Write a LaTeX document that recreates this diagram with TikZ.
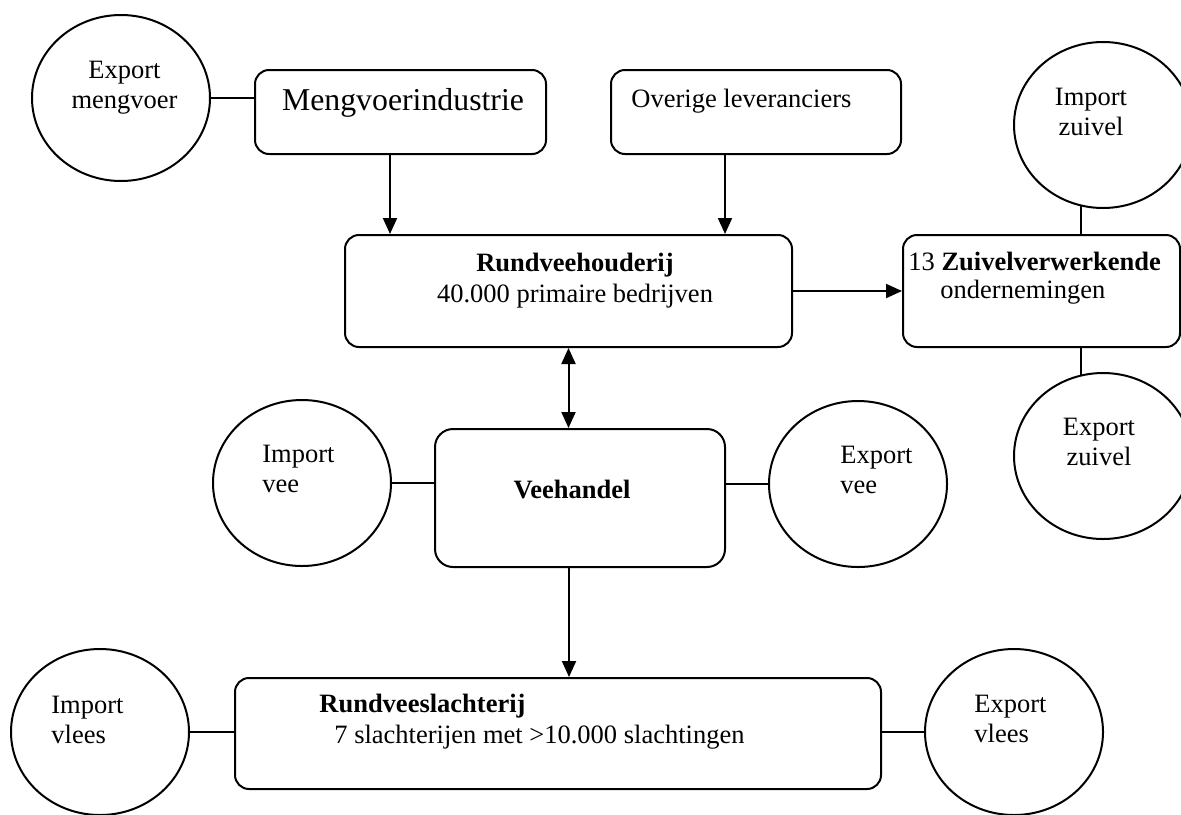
\documentclass[tikz,border=0pt]{standalone}
\usepackage{fontspec}
\setmainfont{Liberation Serif}
\usetikzlibrary{arrows.meta}
\usetikzlibrary{shapes.geometric}
\tikzstyle{box} = [draw, line width=1pt, rounded corners=7pt, inner sep=0pt]
\tikzstyle{bubble} = [draw, line width=1pt, ellipse, inner sep=0pt, minimum width=89pt, minimum height=83pt]
\tikzstyle{txt} = [inner sep=0pt, font=\fontsize{13.25}{15.25}\selectfont]
\tikzstyle{link} = [draw, line width=1pt]
\tikzstyle{flow} = [link, -{Triangle[length=8pt,width=7pt]}]
\tikzstyle{twoway} = [link, {Triangle[length=8pt,width=7pt]}-{Triangle[length=8pt,width=7pt]}]

\begin{document}
\begin{tikzpicture}[x=0.5pt, y=-0.5pt]
    \useasboundingbox (0,0) rectangle (1181,814);
    % boxes
    \node[box, minimum width=145.5pt, minimum height=42pt] (mengvoer) at (400.5,112) {};
    \node[box, minimum width=145pt, minimum height=42pt] (overige) at (756,112) {};
    \node[box, minimum width=223.5pt, minimum height=56pt] (rund) at (568.5,291) {};
    \node[box, minimum width=138.5pt, minimum height=56pt] (zuivel) at (1041.5,291) {};
    \node[box, rounded corners=9pt, minimum width=145pt, minimum height=69pt] (veehandel) at (580,498) {};
    \node[box, minimum width=323pt, minimum height=55.5pt] (slacht) at (558,733.5) {};
    % import / export
    \node[bubble] (expmeng) at (121,98) {};
    \node[bubble] (impzuivel) at (1103,125) {};
    \node[bubble] (expzuivel) at (1103,456) {};
    \node[bubble] (impvee) at (302,483) {};
    \node[bubble] (expvee) at (858,484) {};
    \node[bubble] (impvlees) at (100,732) {};
    \node[bubble] (expvlees) at (1014,732) {};
    % texts
    \node[txt, font=\fontsize{15.9}{19}\selectfont, anchor=base] (mengvoertxt) at (403,110) {Mengvoerindustrie};
    \node[txt, anchor=base west] (overigetxt) at (631,107) {Overige leveranciers};
    \node[txt, anchor=north, align=center] (rundtxt) at (575,253) {\textbf{Rundveehouderij}\\40.000 primaire bedrijven};
    \node[txt, anchor=north west, align=left] (zuiveltxt) at (908,252) {13 \textbf{Zuivelverwerkende}\\[-1.25pt]\hspace*{16pt}ondernemingen};
    \node[txt, anchor=base] (veehandeltxt) at (572,498) {\textbf{Veehandel}};
    \node[txt, anchor=north west, align=left] (slachttxt) at (319,694) {\textbf{Rundveeslachterij}\\\hspace*{7.5pt}7 slachterijen met >10.000 slachtingen};
    \node[txt, anchor=north, align=center] (expmengtxt) at (124.5,60.5) {Export\\mengvoer};
    \node[txt, anchor=north, align=center] (impzuiveltxt) at (1091,87.5) {Import\\zuivel};
    \node[txt, anchor=north, align=center] (expzuiveltxt) at (1099,417.5) {Export\\zuivel};
    \node[txt, anchor=north west, align=left] (impveetxt) at (262,444.5) {Import\\vee};
    \node[txt, anchor=north west, align=left] (expveetxt) at (840,445.5) {Export\\vee};
    \node[txt, anchor=north west, align=left] (impvleestxt) at (51,695.5) {Import\\vlees};
    \node[txt, anchor=north west, align=left] (expvleestxt) at (974,694.5) {Export\\vlees};
    % connectors
    \draw[link] (expmeng.east) -- (expmeng.east -| mengvoer.west);
    \draw[flow] ([xshift=-5.25pt]mengvoer.south) -- ([xshift=-5.25pt]mengvoer.south |- rund.north);
    \draw[flow] ([xshift=-15.5pt]overige.south) -- ([xshift=-15.5pt]overige.south |- rund.north);
    \draw[flow] (rund.east) -- (zuivel.west);
    \draw[link] (impzuivel.-105) -- (impzuivel.-105 |- zuivel.north);
    \draw[link] (zuivel.south -| expzuivel.105) -- (expzuivel.105);
    \draw[twoway] (rund.south) -- (rund.south |- veehandel.north);
    \draw[link] (impvee.east) -- (impvee.east -| veehandel.west);
    \draw[link] (veehandel.east |- expvee.west) -- (expvee.west);
    \draw[flow] ([xshift=-5.5pt]veehandel.south) -- ([xshift=-5.5pt]veehandel.south |- slacht.north);
    \draw[link] (impvlees.east) -- (impvlees.east -| slacht.west);
    \draw[link] (slacht.east |- expvlees.west) -- (expvlees.west);
\end{tikzpicture}
\end{document}
